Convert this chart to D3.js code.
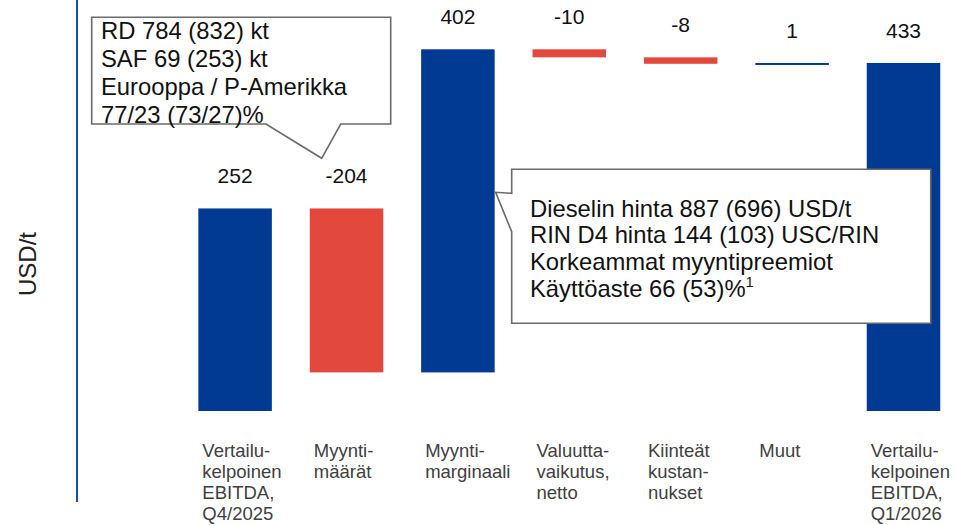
<!DOCTYPE html>
<html>
<head>
<meta charset="utf-8">
<script src="https://cdn.jsdelivr.net/npm/d3@7"></script>
<style>
  body { margin: 0; background: #fff; }
  svg { display: block; font-family: "Liberation Sans", Arial, sans-serif; }
</style>
</head>
<body>
<div id="chart"></div>
<script>
// waterfall data (USD/t)
const categories = [
    ["Vertailu-", "kelpoinen", "EBITDA,", "Q4/2025"],
    ["Myynti-", "määrät"],
    ["Myynti-", "marginaali"],
    ["Valuutta-", "vaikutus,", "netto"],
    ["Kiinteät", "kustan-", "nukset"],
    ["Muut"],
    ["Vertailu-", "kelpoinen", "EBITDA,", "Q1/2026"]
];
const values = [252, -204, 402, -10, -8, 1, 433];
const isTotal = [true, false, false, false, false, false, true];
const valueLabels = ["252", "-204", "402", "-10", "-8", "1", "433"];

const volumeNotes = ["RD 784 (832) kt", "SAF 69 (253) kt", "Eurooppa / P-Amerikka", "77/23 (73/27)%"];
const marginNotes = ["Dieselin hinta 887 (696) USD/t", "RIN D4 hinta 144 (103) USC/RIN", "Korkeammat myyntipreemiot", "Käyttöaste 66 (53)%"];
const yLabel = "USD/t";

const width = 957, height = 525;
const blue = "#003a93", red = "#e2493c";

// build start/end of each step
let run = 0;
const steps = values.map((v, i) => {
    let start, end;
    if (isTotal[i]) { start = 0; end = v; run = v; }
    else { start = run; end = run + v; run = end; }
    return { i, v, start, end, total: isTotal[i], cat: categories[i], label: valueLabels[i] };
});

const svg = d3.select("#chart").append("svg")
    .attr("width", width)
    .attr("height", height);

const x = d3.scaleBand()
    .domain(d3.range(categories.length))
    .range([179.4, 959.2])
    .paddingInner(0.34)
    .paddingOuter(0.17);

const y = d3.scaleLinear()
    .domain([0, 450])
    .range([411, 49.3]);

// y axis line, no ticks
svg.append("line")
    .attr("x1", 77).attr("x2", 77)
    .attr("y1", 0).attr("y2", 502)
    .attr("stroke", "#1c4ea3")
    .attr("stroke-width", 2);

svg.append("text")
    .attr("transform", "translate(36,264) rotate(-90)")
    .attr("text-anchor", "middle")
    .attr("font-size", 24)
    .attr("fill", "#222")
    .text(yLabel);

// bars
svg.selectAll(".bar")
    .data(steps)
    .join("rect")
    .attr("class", "bar")
    .attr("x", d => x(d.i))
    .attr("width", x.bandwidth())
    .attr("y", d => y(Math.max(d.start, d.end)))
    .attr("height", d => Math.max(2, Math.abs(y(d.start) - y(d.end))))
    .attr("fill", d => (d.total || d.v > 0) ? blue : red);

// value labels
svg.selectAll(".val")
    .data(steps)
    .join("text")
    .attr("class", "val")
    .attr("x", d => x(d.i) + x.bandwidth() / 2)
    .attr("y", d => y(Math.max(d.start, d.end)) - 25)
    .attr("text-anchor", "middle")
    .attr("font-size", 21)
    .attr("fill", "#111")
    .text(d => d.label);

// category labels
const catText = svg.selectAll(".cat")
    .data(steps)
    .join("text")
    .attr("class", "cat")
    .attr("x", d => x(d.i) + 4)
    .attr("y", 456.5)
    .attr("font-size", 18.5)
    .attr("fill", "#404040");

catText.selectAll("tspan")
    .data(d => d.cat.map(t => ({ t, x: x(d.i) + 4 })))
    .join("tspan")
    .attr("x", d => d.x)
    .attr("dy", (d, i) => i === 0 ? 0 : 21.3)
    .text(d => d.t);

// callouts
function callout(pathD, lines, tx, ty, lh, sup) {
    const g = svg.append("g");
    g.append("path")
        .attr("d", pathD)
        .attr("fill", "#fff")
        .attr("stroke", "#6a6a6a")
        .attr("stroke-width", 1.6)
        .attr("stroke-linejoin", "miter");
    const t = g.append("text")
        .attr("font-size", 23.8)
        .attr("fill", "#111");
    lines.forEach((s, i) => {
        t.append("tspan")
            .attr("x", tx)
            .attr("y", ty + i * lh)
            .text(s);
    });
    if (sup) {
        t.append("tspan")
            .attr("font-size", 14)
            .attr("dy", -10)
            .text(sup);
    }
}

const tip3 = x(2) + x.bandwidth() + 1;
callout(`M91.7,17.3 H390.7 V124 H340.7 L321.7,158.3 L266,124 H91.7 Z`,
    volumeNotes, 101, 39.3, 27.8);
callout(`M511.7,169.3 H930.7 V323.3 H511.7 V231.7 L${tip3},192.3 L511.7,193.3 Z`,
    marginNotes, 530, 216.7, 26.7, "1");
</script>
</body>
</html>
